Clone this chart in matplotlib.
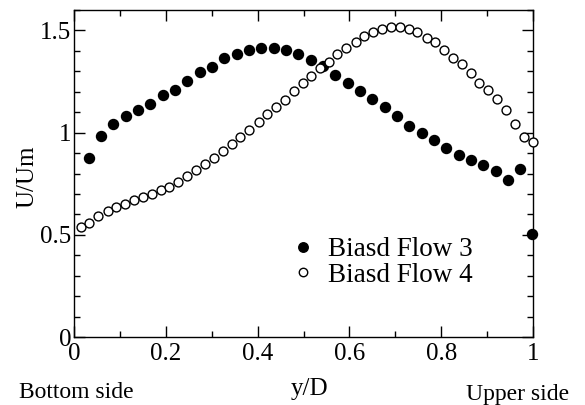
import matplotlib
matplotlib.use("Agg")
import matplotlib.pyplot as plt
from matplotlib.ticker import MultipleLocator, FuncFormatter

plt.rcParams['font.family'] = ['Liberation Serif', 'DejaVu Serif']

flow3_x = [0.033, 0.059, 0.085, 0.113, 0.139, 0.166, 0.194, 0.220, 0.246, 0.275,
           0.301, 0.327, 0.355, 0.381, 0.407, 0.436, 0.462, 0.488, 0.516, 0.542,
           0.569, 0.597, 0.623, 0.649, 0.678, 0.704, 0.730, 0.758, 0.784, 0.810,
           0.839, 0.865, 0.891, 0.919, 0.946, 0.972, 0.998]
flow3_y = [0.877, 0.985, 1.044, 1.083, 1.113, 1.142, 1.186, 1.211, 1.255, 1.296,
           1.322, 1.364, 1.386, 1.404, 1.413, 1.413, 1.404, 1.386, 1.353, 1.325,
           1.282, 1.244, 1.204, 1.165, 1.124, 1.083, 1.034, 1.000, 0.962, 0.923,
           0.892, 0.864, 0.840, 0.812, 0.768, 0.822, 0.505]

flow4_x = [0.015, 0.033, 0.053, 0.073, 0.092, 0.111, 0.131, 0.150, 0.169, 0.189,
           0.208, 0.227, 0.246, 0.266, 0.285, 0.304, 0.324, 0.344, 0.362, 0.382,
           0.402, 0.420, 0.440, 0.459, 0.479, 0.498, 0.517, 0.536, 0.555, 0.574,
           0.593, 0.614, 0.632, 0.652, 0.671, 0.691, 0.710, 0.729, 0.748, 0.768,
           0.787, 0.806, 0.826, 0.845, 0.864, 0.883, 0.903, 0.922, 0.942, 0.961,
           0.981, 0.999]
flow4_y = [0.536, 0.559, 0.590, 0.616, 0.637, 0.653, 0.670, 0.685, 0.700, 0.717,
           0.735, 0.758, 0.788, 0.815, 0.845, 0.877, 0.908, 0.943, 0.977, 1.011,
           1.050, 1.093, 1.123, 1.162, 1.202, 1.244, 1.275, 1.316, 1.345, 1.387,
           1.413, 1.444, 1.475, 1.493, 1.507, 1.515, 1.516, 1.505, 1.493, 1.464,
           1.444, 1.405, 1.366, 1.337, 1.294, 1.244, 1.208, 1.165, 1.113, 1.042,
           0.977, 0.953]

series_labels = ["Biasd Flow 3", "Biasd Flow 4"]
x_label = "y/D"
y_label = "U/Um"
side_labels = ["Bottom side", "Upper side"]

W, H = 585, 405
fig = plt.figure(figsize=(W/100, H/100), dpi=100)
ax = fig.add_axes([74/W, 1-337/H, (533-74)/W, (337-10)/H])

ax.plot(flow3_x, flow3_y, linestyle='none', marker='o', markersize=7.2,
        markerfacecolor='black', markeredgecolor='black', label=series_labels[0],
        clip_on=False, zorder=3)
ax.plot(flow4_x, flow4_y, linestyle='none', marker='o', markersize=6.4,
        markerfacecolor='white', markeredgecolor='black', markeredgewidth=1.0,
        label=series_labels[1], clip_on=False, zorder=3)

ax.set_xlim(0, 1)
ax.set_ylim(0, 1.6)
ax.xaxis.set_major_locator(MultipleLocator(0.2))
ax.xaxis.set_minor_locator(MultipleLocator(0.1))
ax.yaxis.set_major_locator(MultipleLocator(0.5))
ax.yaxis.set_minor_locator(MultipleLocator(0.1))
fmt = FuncFormatter(lambda v, p: '%g' % round(v, 3))
ax.xaxis.set_major_formatter(fmt)
ax.yaxis.set_major_formatter(fmt)

ax.tick_params(which='both', direction='in', top=True, right=True, width=1.0, labelsize=18)
ax.tick_params(axis='x', pad=4)
ax.tick_params(axis='y', pad=2)
ax.tick_params(which='major', length=8)
ax.tick_params(which='minor', length=4)
for s in ax.spines.values():
    s.set_linewidth(1.0)

ax.set_ylabel(y_label, fontsize=18)
ax.yaxis.set_label_coords(-0.078, 0.489)
fig.text(310/W, 1-395/H, x_label, fontsize=18, ha='center', va='baseline')
fig.text(76/W, 1-398/H, side_labels[0], fontsize=17, ha='center', va='baseline')
fig.text(518/W, 1-400/H, side_labels[1], fontsize=17, ha='center', va='baseline')

leg = ax.legend(loc='upper left', bbox_to_anchor=((291-74)/459, (337-237)/327),
                frameon=False, fontsize=19.5, handletextpad=0.45, borderaxespad=0,
                borderpad=0, labelspacing=0.03, handlelength=0.9, markerscale=0.95)

fig.savefig("out.png", dpi=100)
